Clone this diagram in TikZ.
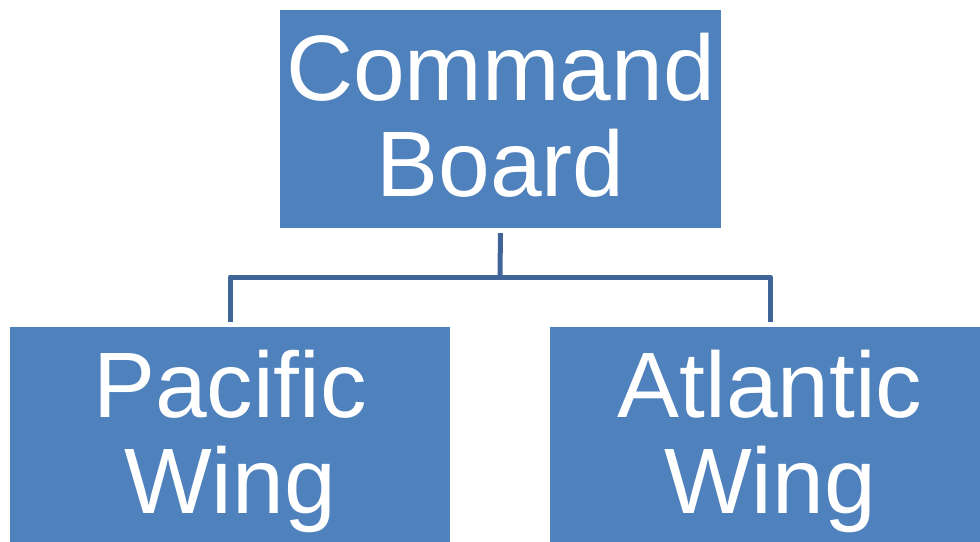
\documentclass[tikz,border=0pt]{standalone}
\usepackage{fontspec}
\setmainfont{Liberation Sans}
\usepackage{tikz}
\definecolor{boxblue}{RGB}{79,129,189}
\definecolor{linkblue}{RGB}{63,100,152}

\begin{document}
\begin{tikzpicture}[x=1pt,y=-1pt,line join=round,
  boxnode/.style={fill=boxblue,text=white,inner sep=0pt,minimum width=440pt,minimum height=218pt,
    align=center,text depth=9pt,font=\fontsize{93}{96}\selectfont},
  linkline/.style={draw=linkblue,line width=5pt}]

\useasboundingbox (0,0) rectangle (980,541);

\node[boxnode,minimum width=441pt] (cmd) at (500.5,119) {Command\\Board};
\node[boxnode] (pac) at (230,436) {Pacific\\Wing};
\node[boxnode] (atl) at (770,436) {Atlantic\\Wing};

\coordinate (split) at (500,277);
\draw[linkline,shorten <=5pt] (cmd.south) -- (split);
\draw[linkline,shorten >=5pt] (split) -| (pac.north);
\draw[linkline,shorten >=5pt] (split) -| (atl.north);

\end{tikzpicture}
\end{document}
